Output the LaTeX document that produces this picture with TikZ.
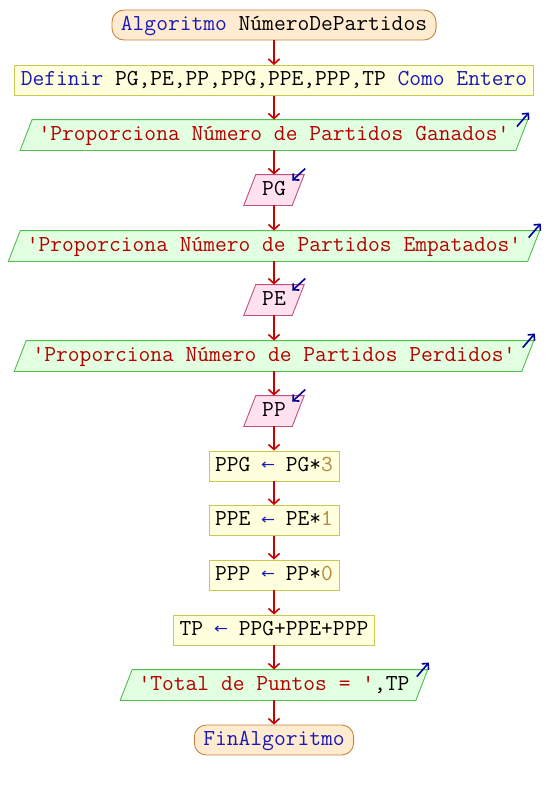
\documentclass[tikz,border=0pt]{standalone}
\usepackage{fontspec}
\newfontfamily\arrowfont{DejaVu Sans}
\usetikzlibrary{arrows.meta,calc,backgrounds}
\definecolor{kw}{RGB}{25,25,185}
\definecolor{str}{RGB}{180,0,0}
\definecolor{num}{RGB}{176,136,64}
\definecolor{tfill}{RGB}{255,236,208}
\definecolor{tdraw}{RGB}{200,130,60}
\definecolor{pfill}{RGB}{255,255,221}
\definecolor{pdraw}{RGB}{200,200,80}
\definecolor{ofill}{RGB}{226,255,226}
\definecolor{odraw}{RGB}{80,190,80}
\definecolor{ifill}{RGB}{255,226,238}
\definecolor{idraw}{RGB}{190,80,130}
\definecolor{flow}{RGB}{200,0,0}
\definecolor{ind}{RGB}{0,0,150}
\newcommand\asg{\makebox[0.525em]{\color{kw}\raisebox{1.5pt}{\resizebox{14pt}{7.5pt}{\arrowfont ←}}}}
\newcommand\parashape[2]{%
  \begin{pgfonlayer}{background}
  \path[#2] ($(#1.south west)+(-6,0)$) -- ($(#1.north west)+(6,0)$) -- ($(#1.north east)+(6,0)$) -- ($(#1.south east)+(-6,0)$) -- cycle;
  \end{pgfonlayer}}
\newcommand\outind[1]{\draw[indarr] ($(#1.north east)+(-5,7)$) -- ($(#1.north east)+(7,-7)$);}
\newcommand\inind[1]{\draw[indarr] ($(#1.north east)+(7,-6)$) -- ($(#1.north east)+(-6,6)$);}
\begin{document}
\begin{tikzpicture}[x=1pt,y=-1pt,
  base/.style={font=\ttfamily\fontsize{22.86pt}{24pt}\selectfont, minimum height=30pt, inner ysep=0pt, text height=14pt, text depth=4pt, line width=0.9pt},
  term/.style={base, draw=tdraw, fill=tfill, rounded corners=12pt, inner xsep=9pt},
  proc/.style={base, draw=pdraw, fill=pfill, inner xsep=6pt},
  outp/.style={base, inner xsep=12pt},
  inp/.style={base, inner xsep=12pt},
  oshape/.style={draw=odraw, fill=ofill, line width=0.9pt},
  ishape/.style={draw=idraw, fill=ifill, line width=0.9pt},
  conn/.style={draw=flow, line width=1.6pt, -{Straight Barb[length=5pt,width=11pt]}},
  indarr/.style={draw=ind, line width=1.6pt, -{Straight Barb[length=4.5pt,width=9pt]}}
]
\useasboundingbox (0,0) rectangle (548,790);
\node[term] (n0) at (274,25) {\textcolor{kw}{Algoritmo} NúmeroDePartidos};
\node[proc] (n1) at (274,80.5) {\textcolor{kw}{Definir} PG,PE,PP,PPG,PPE,PPP,TP \textcolor{kw}{Como Entero}};
\node[outp] (n2) at (274,135) {\textcolor{str}{'Proporciona Número de Partidos Ganados'}};
\node[inp] (n3) at (274,190) {PG};
\node[outp] (n4) at (274,246) {\textcolor{str}{'Proporciona Número de Partidos Empatados'}};
\node[inp] (n5) at (274,300) {PE};
\node[outp] (n6) at (274,356) {\textcolor{str}{'Proporciona Número de Partidos Perdidos'}};
\node[inp] (n7) at (274,411) {PP};
\node[proc] (n8) at (274,466) {PPG \asg{} PG*\textcolor{num}{3}};
\node[proc] (n9) at (274,520.5) {PPE \asg{} PE*\textcolor{num}{1}};
\node[proc] (n10) at (274,575) {PPP \asg{} PP*\textcolor{num}{0}};
\node[proc] (n11) at (274,630) {TP \asg{} PPG+PPE+PPP};
\node[outp] (n12) at (274,685) {\textcolor{str}{'Total de Puntos = '},TP};
\node[term] (n13) at (274,740) {\textcolor{kw}{FinAlgoritmo}};
\parashape{n2}{oshape}
\parashape{n4}{oshape}
\parashape{n6}{oshape}
\parashape{n12}{oshape}
\parashape{n3}{ishape}
\parashape{n5}{ishape}
\parashape{n7}{ishape}
\outind{n2}
\outind{n4}
\outind{n6}
\outind{n12}
\inind{n3}
\inind{n5}
\inind{n7}
\foreach \a/\b in {n0/n1,n1/n2,n2/n3,n3/n4,n4/n5,n5/n6,n6/n7,n7/n8,n8/n9,n9/n10,n10/n11,n11/n12,n12/n13}
  \draw[conn] (\a.south) -- (\b.north);
\end{tikzpicture}
\end{document}
